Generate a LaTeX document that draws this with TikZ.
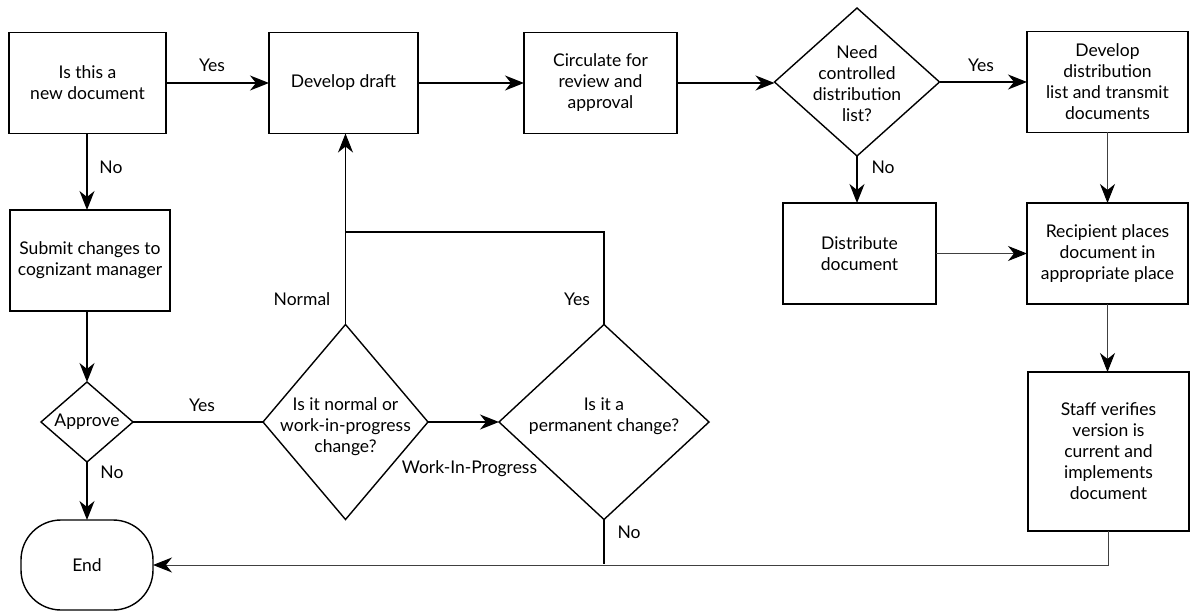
\documentclass[tikz,border=0pt]{standalone}
\usepackage{fontspec}
\setmainfont{Lato}
\usetikzlibrary{shapes.geometric,arrows.meta}
\tikzset{
  every node/.style={font=\fontsize{17.5}{21}\selectfont, text=black},
  stepbox/.style={draw, line width=1.6pt, rectangle, align=center, inner sep=0pt, outer sep=0pt, minimum height=101pt},
  choice/.style={draw, line width=1.4pt, diamond, inner sep=0pt, outer sep=0pt},
  txt/.style={align=center, inner sep=0pt},
  lbl/.style={inner sep=0pt},
  tip/.style={-{Stealth[length=19pt,width=15pt,inset=6pt,color=black]}},
  flow/.style={line width=1.3pt, tip},
  plain/.style={line width=1.3pt},
  sideflow/.style={line width=1pt, draw=black!75, tip},
}
\begin{document}
\begin{tikzpicture}[x=1pt, y=-1pt]
\useasboundingbox (0,0) rectangle (1191,612);

% process boxes
\node[stepbox, minimum width=157pt] (newdoc) at (87.5,83) {Is this a\\new document};
\node[stepbox, minimum width=149pt] (draft) at (343.5,83) {Develop draft};
\node[stepbox, minimum width=153pt] (circ) at (600.5,83) {Circulate for\\review and\\approval};
\node[stepbox, minimum width=161pt] (devlist) at (1107.5,82) {Develop\\distribution\\list and transmit\\documents};
\node[stepbox, minimum width=153pt] (distr) at (859.5,253.5) {Distribute\\document};
\node[stepbox, minimum width=161pt] (recip) at (1107.5,253.5) {Recipient places\\document in\\appropriate place};
\node[stepbox, minimum width=160pt] (submit) at (90,260.5) {Submit changes to\\cognizant manager};
\node[stepbox, minimum width=161pt, minimum height=159pt] (staff) at (1108.5,451.5) {Staff verifies\\version is\\current and\\implements\\document};

% decisions
\node[choice, minimum width=165pt, minimum height=148pt] (need) at (857,82) {};
\node[txt] at ([yshift=-2pt]need.center) {Need\\controlled\\distribution\\list?};
\node[choice, minimum width=92pt, minimum height=80pt] (appr) at (87,422) {};
\node[txt] at (appr.center) {Approve};
\node[choice, minimum width=165pt, minimum height=195pt] (kind) at (345.5,422) {};
\node[txt] at ([yshift=-5pt]kind.center) {Is it normal or\\work-in-progress\\change?};
\node[choice, minimum width=210pt, minimum height=195pt] (perm) at (604,422) {};
\node[txt] at ([yshift=6pt]perm.center) {Is it a\\permanent change?};

% terminator
\node[draw, line width=1.4pt, rounded corners=40pt, minimum width=132pt, minimum height=90pt, inner sep=0pt, outer sep=0pt] (end) at (87,565) {End};

% junction points
\coordinate (join) at (345.5,232);
\coordinate (low) at (604,564);

% connectors
\draw[flow] (newdoc.east) -- (draft.west);
\draw[flow] (appr.north |- newdoc.south) -- (appr.north |- submit.north);
\draw[flow] (draft.east) -- (circ.west);
\draw[flow] (circ.east) -- (circ.east -| need.west);
\draw[flow] (need.east) -- (need.east -| devlist.west);
\draw[flow] (need.south) -- (need.south |- distr.north);
\draw[sideflow] (devlist.south) -- (recip.north);
\draw[sideflow] (distr.east) -- (distr.east -| recip.west);
\draw[sideflow] (recip.south) -- (recip.south |- staff.north);
\draw[flow] (appr.north |- submit.south) -- (appr.north);
\draw[flow] (appr.south) -- (end.north);
\draw[plain] (appr.east) -- (kind.west);
\draw[flow] (kind.north) -- (kind.north |- draft.south);
\draw[plain] (perm.north) |- (join);
\draw[flow] (kind.east) -- (perm.west);
\draw[plain] (perm.south) -- (low);
\draw[sideflow] (staff.south) |- (end.east);

% branch labels
\node[lbl] (lyesnew) at (212,65) {Yes};
\node[lbl] (lnonew) at (111,167) {No};
\node[lbl] (lyesneed) at (981,65) {Yes};
\node[lbl] (lnoneed) at (883,167) {No};
\node[lbl] (lyesappr) at (202,405) {Yes};
\node[lbl] (lnoappr) at (112,472) {No};
\node[lbl] (lnormal) at (302,299) {Normal};
\node[lbl] (lyesperm) at (577,299) {Yes};
\node[lbl] (lwip) at (469.5,469) {Work-In-Progress};
\node[lbl] (lnoperm) at (629,532) {No};
\end{tikzpicture}
\end{document}
